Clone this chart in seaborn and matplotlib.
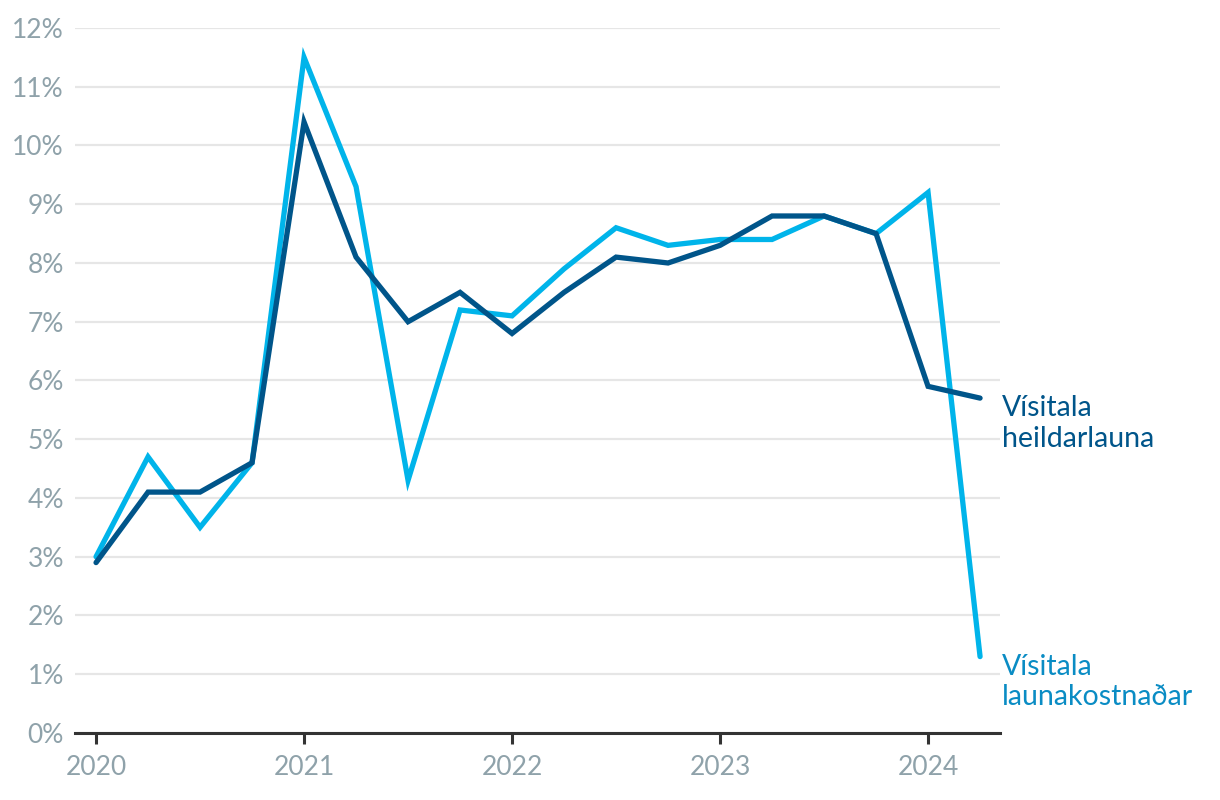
import matplotlib
matplotlib.use("Agg")
import matplotlib.pyplot as plt
import seaborn as sns
import pandas as pd
import numpy as np

quarters = ["2020Q1","2020Q2","2020Q3","2020Q4","2021Q1","2021Q2","2021Q3","2021Q4",
            "2022Q1","2022Q2","2022Q3","2022Q4","2023Q1","2023Q2","2023Q3","2023Q4",
            "2024Q1","2024Q2"]
launakostnadar = [3.0, 4.7, 3.5, 4.6, 11.5, 9.3, 4.3, 7.2, 7.1, 7.9, 8.6, 8.3, 8.4, 8.4, 8.8, 8.5, 9.2, 1.3]
heildarlauna = [2.9, 4.1, 4.1, 4.6, 10.4, 8.1, 7.0, 7.5, 6.8, 7.5, 8.1, 8.0, 8.3, 8.8, 8.8, 8.5, 5.9, 5.7]
year_ticks = [2020, 2021, 2022, 2023, 2024]
y_ticks = list(range(0, 13))

xnum = [int(q[:4]) + (int(q[-1]) - 1) / 4 for q in quarters]
df = pd.DataFrame({"x": xnum, "launakostnadar": launakostnadar, "heildarlauna": heildarlauna})

sns.set_theme(style="white")
plt.rcParams['font.family'] = ['Lato', 'DejaVu Sans']

fig = plt.figure(figsize=(12.2, 8), dpi=100)
ax = fig.add_axes([0.0615, 0.0838, 0.7582, 0.8812])

light = "#00b4ea"
dark = "#00558a"
sns.lineplot(data=df, x="x", y="launakostnadar", ax=ax, color=light, linewidth=3.8,
             solid_capstyle="round", solid_joinstyle="miter", zorder=3)
sns.lineplot(data=df, x="x", y="heildarlauna", ax=ax, color=dark, linewidth=3.8,
             solid_capstyle="round", solid_joinstyle="miter", zorder=4)

ax.set_xlim(2020 - 0.101, 2024.346)
ax.set_ylim(0, 12)
ax.set_yticks(y_ticks)
ax.set_yticklabels([f"{v}%" for v in y_ticks])
ax.set_xticks(year_ticks)
ax.set_xticklabels([str(y) for y in year_ticks])
ax.set_xlabel("")
ax.set_ylabel("")
ax.grid(axis="y", color="#e6e6e6", linewidth=1.6)
ax.set_axisbelow(True)
for s in ["top", "right", "left"]:
    ax.spines[s].set_visible(False)
ax.spines["bottom"].set_color("#333333")
ax.spines["bottom"].set_linewidth(2.2)
ax.spines["bottom"].set_zorder(5)
tick_color = "#8fa2aa"
ax.tick_params(axis="x", bottom=True, length=8, width=2.2, color="#333333",
               labelsize=19, labelcolor=tick_color, pad=8)
ax.tick_params(axis="y", left=False, length=0, labelsize=19, labelcolor=tick_color, pad=8)

ax.text(2024.355, heildarlauna[-1] + 0.05, "Vísitala\nheildarlauna", color=dark, fontsize=20.5,
        va="top", ha="left", linespacing=1.22, clip_on=False)
ax.text(2024.355, launakostnadar[-1] + 0.05, "Vísitala\nlaunakostnaðar", color="#0a8cc4", fontsize=20.5,
        va="top", ha="left", linespacing=1.22, clip_on=False)

fig.savefig("out.png", dpi=100, facecolor="white")
